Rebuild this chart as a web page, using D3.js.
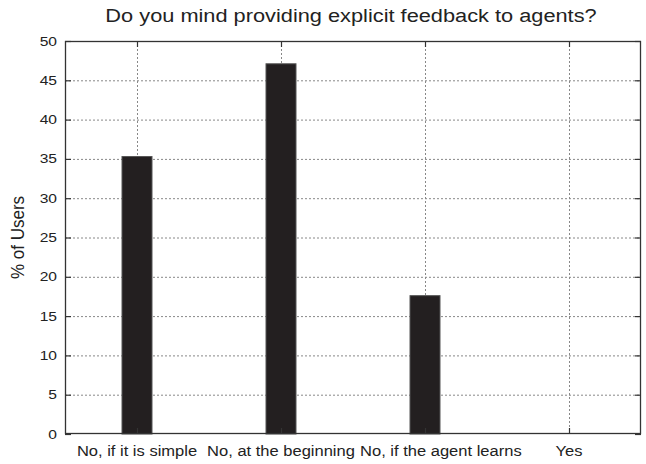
<!DOCTYPE html>
<html>
<head>
<meta charset="utf-8">
<script src="https://cdn.jsdelivr.net/npm/d3@7"></script>
<style>
  body { margin: 0; background: #fff; }
  svg { font-family: "Liberation Sans", Arial, sans-serif; }
</style>
</head>
<body>
<svg id="chart" width="646" height="464"></svg>
<script>
const categories = ["No, if it is simple", "No, at the beginning", "No, if the agent learns", "Yes"];
const values = [35.3, 47.1, 17.6, 0];
const yTicks = [0, 5, 10, 15, 20, 25, 30, 35, 40, 45, 50];

const margin = { top: 41, right: 5, bottom: 30, left: 65 };
const width = 646, height = 464;
// the original glyphs look stretched sideways
const sx = 1.2;

const svg = d3.select("#chart");

const x = d3.scaleLinear()
  .domain([0.5, categories.length + 0.5])
  .range([margin.left, width - margin.right]);

const y = d3.scaleLinear()
  .domain([0, 50])
  .range([height - margin.bottom, margin.top]);

const x0 = margin.left, x1 = width - margin.right;
const y0 = height - margin.bottom, y1 = margin.top;
const cx = i => Math.round(x(i + 1)) + 0.5;

// dotted grid
const grid = svg.append("g")
  .attr("stroke", "#888")
  .attr("stroke-width", 1)
  .attr("stroke-dasharray", "2,2");

grid.selectAll("line.h")
  .data(yTicks.slice(1, -1))
  .join("line")
  .attr("class", "h")
  .attr("x1", x0).attr("x2", x1)
  .attr("y1", d => y(d) + 0.5).attr("y2", d => y(d) + 0.5);

grid.selectAll("line.v")
  .data(categories)
  .join("line")
  .attr("class", "v")
  .attr("x1", (d, i) => cx(i)).attr("x2", (d, i) => cx(i))
  .attr("y1", y1).attr("y2", y0);

// bars
const barW = 30;
svg.append("g")
  .selectAll("rect")
  .data(values)
  .join("rect")
  .attr("x", (d, i) => x(i + 1) - barW / 2)
  .attr("y", d => y(d))
  .attr("width", barW)
  .attr("height", d => y0 - y(d))
  .attr("fill", "#231f20")
  .attr("stroke", "#555")
  .attr("stroke-width", 1);

// frame
svg.append("rect")
  .attr("x", x0 + 0.5).attr("y", y1 + 0.5)
  .attr("width", x1 - x0 - 1).attr("height", y0 - y1 - 1)
  .attr("fill", "none")
  .attr("stroke", "#333")
  .attr("stroke-width", 1.3);

// inward ticks (gnuplot style)
const tickLen = 6;
const ticks = svg.append("g").attr("stroke", "#333").attr("stroke-width", 1.2);
ticks.selectAll("line.yl").data(yTicks).join("line").attr("class", "yl")
  .attr("x1", x0).attr("x2", x0 + tickLen)
  .attr("y1", d => y(d) + 0.5).attr("y2", d => y(d) + 0.5);
ticks.selectAll("line.yr").data(yTicks).join("line").attr("class", "yr")
  .attr("x1", x1 - tickLen).attr("x2", x1)
  .attr("y1", d => y(d) + 0.5).attr("y2", d => y(d) + 0.5);
ticks.selectAll("line.xb").data(categories).join("line").attr("class", "xb")
  .attr("x1", (d, i) => cx(i)).attr("x2", (d, i) => cx(i))
  .attr("y1", y0).attr("y2", y0 - tickLen);
ticks.selectAll("line.xt").data(categories).join("line").attr("class", "xt")
  .attr("x1", (d, i) => cx(i)).attr("x2", (d, i) => cx(i))
  .attr("y1", y1).attr("y2", y1 + tickLen);

// y tick labels
svg.append("g")
  .selectAll("text")
  .data(yTicks)
  .join("text")
  .attr("transform", d => `translate(${x0 - 8},${y(d)}) scale(${sx},1)`)
  .attr("dy", "0.35em")
  .attr("text-anchor", "end")
  .attr("font-size", 13)
  .attr("fill", "#222")
  .text(d => d);

// x labels: centred under each bar, pushed right if they would run into the previous one
const xsx = 1.14;
const xLabels = svg.append("g")
  .selectAll("text")
  .data(categories)
  .join("text")
  .attr("text-anchor", "middle")
  .attr("font-size", 14.5)
  .attr("fill", "#222")
  .text(d => d);

let prevRight = -Infinity;
xLabels.each(function (d, i) {
  const w = this.getComputedTextLength() * xsx;
  let c = x(i + 1);
  if (c - w / 2 < prevRight + 5) c = prevRight + 5 + w / 2;
  prevRight = c + w / 2;
  d3.select(this).attr("transform", `translate(${c},${y0 + 22}) scale(${xsx},1)`);
});

// y axis title
svg.append("text")
  .attr("transform", `translate(24,${(y0 + y1) / 2}) rotate(-90) scale(1,1.05)`)
  .attr("text-anchor", "middle")
  .attr("font-size", 17)
  .attr("fill", "#222")
  .text("% of Users");

// title
svg.append("text")
  .attr("transform", `translate(${(x0 + x1) / 2 - 2},22) scale(1.21,1)`)
  .attr("text-anchor", "middle")
  .attr("font-size", 18)
  .attr("fill", "#222")
  .text("Do you mind providing explicit feedback to agents?");
</script>
</body>
</html>
